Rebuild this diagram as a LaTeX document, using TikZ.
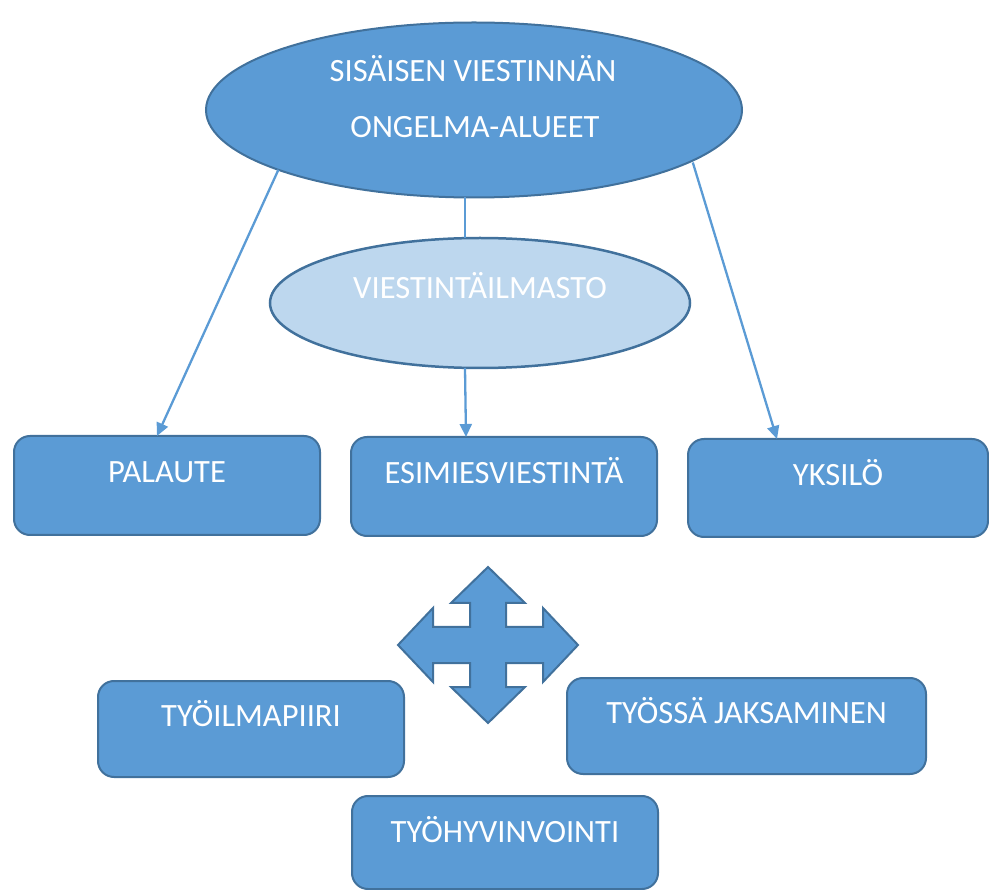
\documentclass[tikz,border=0pt]{standalone}
\usepackage{fontspec}
\setmainfont{Carlito}
\usetikzlibrary{arrows.meta,shapes.geometric}
\definecolor{fillblue}{HTML}{5B9BD5}
\definecolor{edgeblue}{HTML}{41719C}
\definecolor{lightblue}{HTML}{BDD7EE}
\begin{document}
\begin{tikzpicture}[x=1pt,y=-1pt,
  lbl/.style={text=white, font=\fontsize{32.5}{38}\selectfont},
  box/.style={lbl, draw=edgeblue, fill=fillblue, line width=2pt, rounded corners=16pt,
    minimum width=306pt, minimum height=99pt, inner sep=0pt, outer sep=0pt,
    text height=20pt, text depth=25pt},
  bigell/.style={ellipse, draw=edgeblue, fill=fillblue, line width=2pt,
    minimum width=536pt, minimum height=175pt, inner sep=0pt, outer sep=0pt},
  midell/.style={lbl, ellipse, draw=edgeblue, fill=lightblue, line width=2.5pt,
    minimum width=420pt, minimum height=130pt, inner sep=0pt, outer sep=0pt,
    text height=20pt, text depth=28pt},
  conn/.style={draw=fillblue, line width=2.3pt},
  arr/.style={conn, -{Triangle[length=13pt,width=12pt]}},
  crossshape/.style={draw=edgeblue, fill=fillblue, line width=2pt, line join=miter}
]
\useasboundingbox (0,0) rectangle (989,890);

% top ellipse
\node[bigell] (top) at (474,110) {};
\node[lbl, anchor=base] (t1) at (473,82) {SISÄISEN VIESTINNÄN};
\node[lbl, anchor=base] (t2) at (475,138) {ONGELMA-ALUEET};

% middle ellipse
\node[midell] (mid) at (480,303) {VIESTINTÄILMASTO};

% boxes
\node[box] (palaute) at (167,485.5) {PALAUTE};
\node[box] (esim) at (504,486.5) {ESIMIESVIESTINTÄ};
\node[box, minimum width=300pt, minimum height=98pt] (yksilo) at (838,488) {YKSILÖ};
\node[box, minimum height=96pt] (tyoilma) at (251,729) {TYÖILMAPIIRI};
\node[box, minimum width=359pt, minimum height=96pt] (tyossa) at (746.5,726) {TYÖSSÄ JAKSAMINEN};
\node[box, minimum height=93pt, text depth=20pt] (tyohyv) at (505,842.5) {TYÖHYVINVOINTI};

% connectors
\draw[arr] (top.197) -- ([xshift=-10pt]palaute.north);
\draw[arr] ([yshift=-2pt]top.347) -- ([xshift=-61pt]yksilo.north);
\draw[conn] ([xshift=-9pt]top.south) -- ([xshift=-15pt]mid.north);
\draw[arr] ([xshift=-15pt]mid.south) -- ([xshift=-38pt]esim.north);

% four-way arrow
\draw[crossshape, shift={(488,645)}]
  (0,-78) -- (37,-42) -- (18,-42) -- (18,-18) -- (55,-18) -- (55,-37) -- (90,0)
  -- (55,37) -- (55,18) -- (18,18) -- (18,42) -- (37,42) -- (0,78)
  -- (-37,42) -- (-18,42) -- (-18,18) -- (-55,18) -- (-55,37) -- (-90,0)
  -- (-55,-37) -- (-55,-18) -- (-18,-18) -- (-18,-42) -- (-37,-42) -- cycle;
\end{tikzpicture}
\end{document}
